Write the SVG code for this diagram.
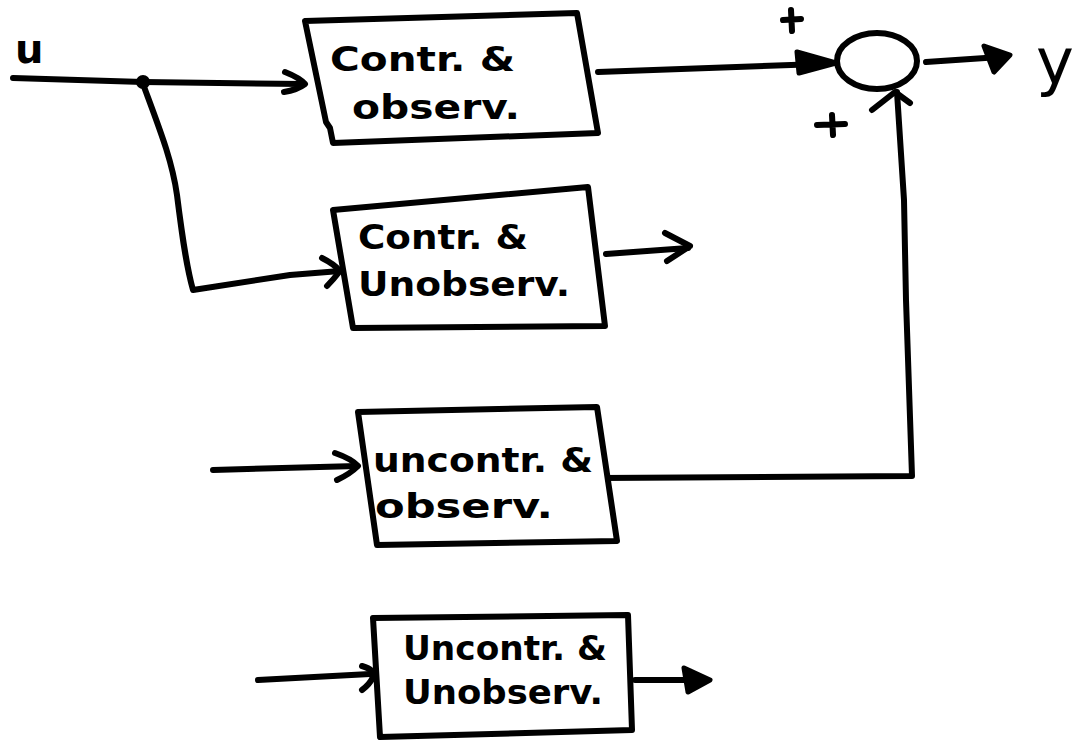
<svg xmlns="http://www.w3.org/2000/svg" width="1086" height="744" viewBox="0 0 1086 744">
  <style>
    .ink { fill: none; stroke: #000; stroke-width: 6; stroke-linecap: round; stroke-linejoin: round; }
    .head { fill: #000; stroke: #000; stroke-width: 5; stroke-linejoin: round; }
    .box { fill: #fff; stroke: #000; stroke-width: 6; stroke-linejoin: round; }
    .lbl { font-family: "DejaVu Sans", "Liberation Sans", sans-serif; font-weight: bold; font-size: 33px; fill: #000; }
    .sym { font-family: "DejaVu Sans", "Liberation Sans", sans-serif; fill: #000; }
  </style>
  <rect width="1086" height="744" fill="#fff"/>

  <!-- connectors -->
  <g id="connectors">
    <!-- input u with pick-off point -->
    <path class="ink" d="M13 78 L143 82 L303 84"/>
    <path class="ink" d="M285 72 Q300 78 305 84 Q297 90 284 92"/>
    <circle cx="143" cy="82" r="7" fill="#000"/>
    <!-- branch down to second block -->
    <path class="ink" d="M143 84 C160 130 172 160 177 195 C182 235 186 265 193 290 L290 275 L340 271"/>
    <path class="ink" d="M322 258 Q334 264 340 271 Q333 280 327 286"/>
    <!-- first block to summing junction -->
    <path class="ink" d="M598 72 L820 64"/>
    <path class="head" d="M797 52 L836 63 L799 73 Z"/>
    <!-- second block output -->
    <path class="ink" d="M606 254 L688 248"/>
    <path class="ink" d="M665 233 L690 246 L667 261"/>
    <!-- third block input -->
    <path class="ink" d="M213 470 L357 466"/>
    <path class="ink" d="M335 453 Q352 459 358 466 Q350 474 337 480"/>
    <!-- third block output up to summing junction -->
    <path class="ink" d="M601 478 L912 476 L906 300 L904 200 L897 92"/>
    <path class="ink" d="M872 110 L895 92 L910 103"/>
    <!-- fourth block input -->
    <path class="ink" d="M258 680 L370 674"/>
    <path class="ink" d="M362 666 Q376 670 373 677 Q370 684 362 690"/>
    <!-- fourth block output -->
    <path class="ink" d="M635 680 L695 680"/>
    <path class="head" d="M684 668 L710 680 L688 692 Z"/>
    <!-- summing junction output -->
    <path class="ink" d="M926 62 L1000 57"/>
    <path class="head" d="M984 46 L1010 55 L994 72 Z"/>
  </g>

  <!-- summing junction -->
  <g id="sum">
    <ellipse cx="877" cy="61" rx="40" ry="28" fill="#fff" stroke="#000" stroke-width="6"/>
    <path class="ink" d="M783 20 L801 19 M791 10 L792 31"/>
    <path class="ink" d="M817 125 L845 124 M832 115 L833 135"/>
  </g>

  <!-- signal labels -->
  <g id="label-u">
    <text class="sym" x="15" y="63" font-size="40" font-weight="bold">u</text>
  </g>
  <g id="label-y">
    <text class="sym" x="1036" y="84" font-size="64">y</text>
  </g>

  <!-- blocks -->
  <g id="block-co">
    <path class="box" d="M305 21 L577 13 L598 133 L333 143 L330 128 L326 122 Z"/>
    <text class="lbl" x="330" y="71" textLength="185" lengthAdjust="spacingAndGlyphs">Contr. &amp;</text>
    <text class="lbl" x="352" y="119" textLength="168" lengthAdjust="spacingAndGlyphs">observ.</text>
  </g>
  <g id="block-cu">
    <path class="box" d="M333 210 L588 187 L605 326 L353 328 Z"/>
    <text class="lbl" x="358" y="249" textLength="170" lengthAdjust="spacingAndGlyphs">Contr. &amp;</text>
    <text class="lbl" x="358" y="296" textLength="212" lengthAdjust="spacingAndGlyphs">Unobserv.</text>
  </g>
  <g id="block-uo">
    <path class="box" d="M358 412 L597 407 L617 541 L377 545 Z"/>
    <text class="lbl" x="373" y="472" textLength="220" lengthAdjust="spacingAndGlyphs">uncontr. &amp;</text>
    <text class="lbl" x="375" y="518" textLength="178" lengthAdjust="spacingAndGlyphs">observ.</text>
  </g>
  <g id="block-uu">
    <path class="box" d="M373 618 L628 615 L632 730 L380 737 Z"/>
    <text class="lbl" x="403" y="660" textLength="204" lengthAdjust="spacingAndGlyphs">Uncontr. &amp;</text>
    <text class="lbl" x="403" y="704" textLength="200" lengthAdjust="spacingAndGlyphs">Unobserv.</text>
  </g>
</svg>
